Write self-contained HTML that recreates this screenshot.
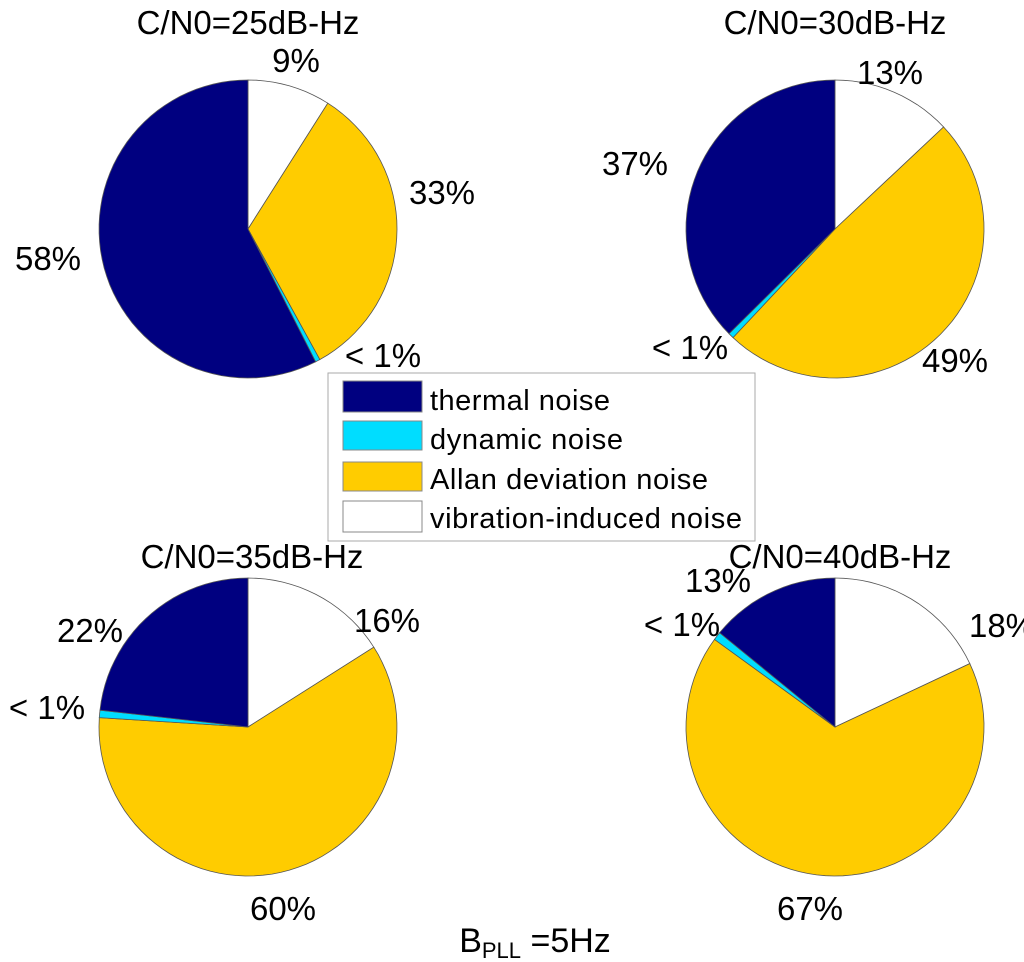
<!DOCTYPE html>
<html><head><meta charset="utf-8"><style>
html,body{margin:0;padding:0;background:#fff;}
svg{display:block;font-family:"Liberation Sans",Arial,sans-serif;}
</style></head><body>
<svg id="chart" width="1024" height="962" viewBox="0 0 1024 962">
<g id="pies"></g>
<g id="texts"></g>
<g>
<rect x="328" y="373" width="427" height="168" fill="#fff" stroke="#aaa" stroke-width="1"/>
<rect x="343" y="381" width="79" height="31" fill="#000080" stroke="#888"/>
<text x="430" y="410" font-size="29" textLength="180">thermal noise</text>
<rect x="343" y="421" width="79" height="29" fill="#00DDFF" stroke="#888"/>
<text x="430" y="449" font-size="29" textLength="193">dynamic noise</text>
<rect x="343" y="462" width="79" height="29" fill="#FFCC00" stroke="#888"/>
<text x="430" y="489" font-size="29" textLength="278">Allan deviation noise</text>
<rect x="343" y="501" width="79" height="31" fill="#fff" stroke="#888"/>
<text x="430" y="528" font-size="29" textLength="312">vibration-induced noise</text>
</g>
<text x="535" y="952" font-size="34" text-anchor="middle">B<tspan font-size="22" dy="6">PLL</tspan><tspan dy="-6"> =5Hz</tspan></text>
</svg>
<script>
// Order clockwise from top: vibration, allan, dynamic, thermal
const titles = ["C/N0=25dB-Hz","C/N0=30dB-Hz","C/N0=35dB-Hz","C/N0=40dB-Hz"];
const vibration = [9, 13, 16, 18];
const allan = [33, 49, 60, 67];
const dynamic = [0.5, 0.6, 0.8, 0.9];
const thermal = [57.5, 37.4, 23.2, 14.1];
const labels = [["9%","33%","< 1%","58%"],["13%","49%","< 1%","37%"],["16%","60%","< 1%","22%"],["18%","67%","< 1%","13%"]];

const centers=[[248,229],[835,229],[248,727],[835,727]];
const R=149;
const labelPos=[
 [[296,72],[442,204],[383,367],[48,270]],
 [[890,84],[955,372],[690,359],[635,175]],
 [[387,632],[283,920],[47,719],[90,642]],
 [[1002,637],[810,920],[682,636],[718,592]]];
const titlePos=[[248,34],[835,34],[252,568],[840,568]];
const colors=["#ffffff","#FFCC00","#00DDFF","#000080"];
const names=["vibration","allan","dynamic","thermal"];
const NS="http://www.w3.org/2000/svg";
const pies=document.getElementById('pies'), texts=document.getElementById('texts');
for(let i=0;i<4;i++){
  const vals=[vibration[i],allan[i],dynamic[i],thermal[i]];
  const tot=vals.reduce((a,b)=>a+b,0);
  let acc=0;
  const [cx,cy]=centers[i];
  for(let k=0;k<4;k++){
    const a0=acc/tot*2*Math.PI, a1=(acc+vals[k])/tot*2*Math.PI; acc+=vals[k];
    let pts=[[cx,cy]];
    const n=Math.max(2,Math.ceil((a1-a0)/0.06));
    for(let j=0;j<=n;j++){const a=a0+(a1-a0)*j/n;pts.push([cx+R*Math.sin(a),cy-R*Math.cos(a)]);}
    const p=document.createElementNS(NS,'polygon');
    p.setAttribute('points',pts.map(q=>q[0].toFixed(1)+','+q[1].toFixed(1)).join(' '));
    p.setAttribute('fill',colors[k]);p.setAttribute('stroke','#555');p.setAttribute('stroke-width','0.8');
    
    
    pies.appendChild(p);
    const t=document.createElementNS(NS,'text');
    t.setAttribute('x',labelPos[i][k][0]);t.setAttribute('y',labelPos[i][k][1]);
    t.setAttribute('font-size','33');t.setAttribute('text-anchor','middle');
    t.textContent=labels[i][k];
    
    
    texts.appendChild(t);
  }
  const tt=document.createElementNS(NS,'text');
  tt.setAttribute('x',titlePos[i][0]);tt.setAttribute('y',titlePos[i][1]);
  tt.setAttribute('font-size','33');tt.setAttribute('text-anchor','middle');
  tt.textContent=titles[i];
  
  
  texts.appendChild(tt);
}
</script>
</body></html>
